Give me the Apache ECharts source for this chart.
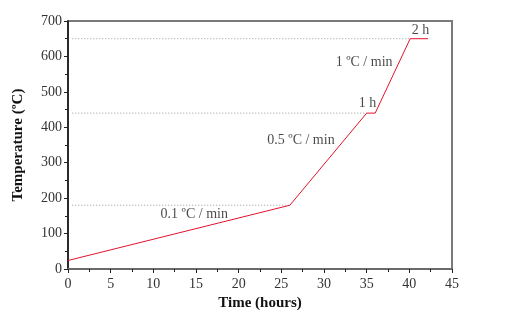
<!DOCTYPE html>
<html style="height: 100%">
   <head>
       <meta charset="utf-8">
   </head>
   <body style="height: 100%; margin: 0; background: #fff">
       <div id="container" style="width: 516px; height: 328px"></div>
       <script type="text/javascript" src="https://cdn.jsdelivr.net/npm/echarts@6/dist/echarts.min.js"></script>
       <script type="text/javascript">
// heating profile: [time in hours, temperature in ºC]
var profile = [[0, 24], [26, 180], [35, 440], [36, 440], [40.1, 650], [42.2, 650]];
// dotted guide levels, each [level, x end]
var guides = [[180, 26], [440, 35], [650, 40.1]];
// annotations: [x, y, text]
var notes = [
    [14.8, 153, '0.1 ºC / min'],
    [27.3, 362, '0.5 ºC / min'],
    [34.7, 583, '1 ºC / min'],
    [35.1, 467, '1 h'],
    [41.3, 673, '2 h']
];
var xTicks = [0, 45, 5];
var yTicks = [0, 700, 100];

var serif = '"Liberation Serif", "DejaVu Serif", serif';
var dom = document.getElementById("container");
var myChart = echarts.init(dom);

var series = [];
guides.forEach(function (g) {
    series.push({
        type: 'line',
        symbol: 'none',
        silent: true,
        data: [[0.5, g[0]], [g[1], g[0]]],
        lineStyle: {color: '#999', width: 1, type: [1, 2]},
        z: 1
    });
});
series.push({
    type: 'line',
    symbol: 'none',
    data: profile,
    lineStyle: {color: '#e3122c', width: 1},
    z: 3
});
series.push({
    type: 'scatter',
    symbolSize: 0,
    data: notes.map(function (n) { return {value: [n[0], n[1]], name: n[2]}; }),
    label: {
        show: true,
        position: 'inside',
        formatter: '{b}',
        fontFamily: serif,
        fontSize: 14,
        color: '#1a1a1a'
    },
    z: 4
});

var option = {
    animation: false,
    grid: {
        left: 68, right: 64, top: 21, bottom: 59,
        show: true,
        borderColor: '#7a7a7a',
        borderWidth: 2
    },
    xAxis: {
        type: 'value',
        min: xTicks[0], max: xTicks[1], interval: xTicks[2],
        name: 'Time (hours)',
        nameLocation: 'middle',
        nameGap: 26,
        nameTextStyle: {fontFamily: serif, fontSize: 15, fontWeight: 'bold', color: '#111'},
        axisLine: {lineStyle: {color: '#6a6a6a', width: 2}},
        axisTick: {inside: false, length: 4, lineStyle: {color: '#222'}},
        minorTick: {show: true, splitNumber: 2, length: 3, lineStyle: {color: '#222'}},
        axisLabel: {fontFamily: serif, fontSize: 14, color: '#333', margin: 8},
        splitLine: {show: false}
    },
    yAxis: {
        type: 'value',
        min: yTicks[0], max: yTicks[1], interval: yTicks[2],
        name: 'Temperature (ºC)',
        nameLocation: 'middle',
        nameGap: 42,
        nameRotate: 90,
        nameTextStyle: {fontFamily: serif, fontSize: 15, fontWeight: 'bold', color: '#111'},
        axisLine: {lineStyle: {color: '#111', width: 1.5}},
        axisTick: {inside: false, length: 4, lineStyle: {color: '#222'}},
        minorTick: {show: true, splitNumber: 2, length: 3, lineStyle: {color: '#222'}},
        axisLabel: {fontFamily: serif, fontSize: 14, color: '#333', margin: 6},
        splitLine: {show: false}
    },
    series: series
};
myChart.setOption(option, true);
       </script>
   </body>
</html>
